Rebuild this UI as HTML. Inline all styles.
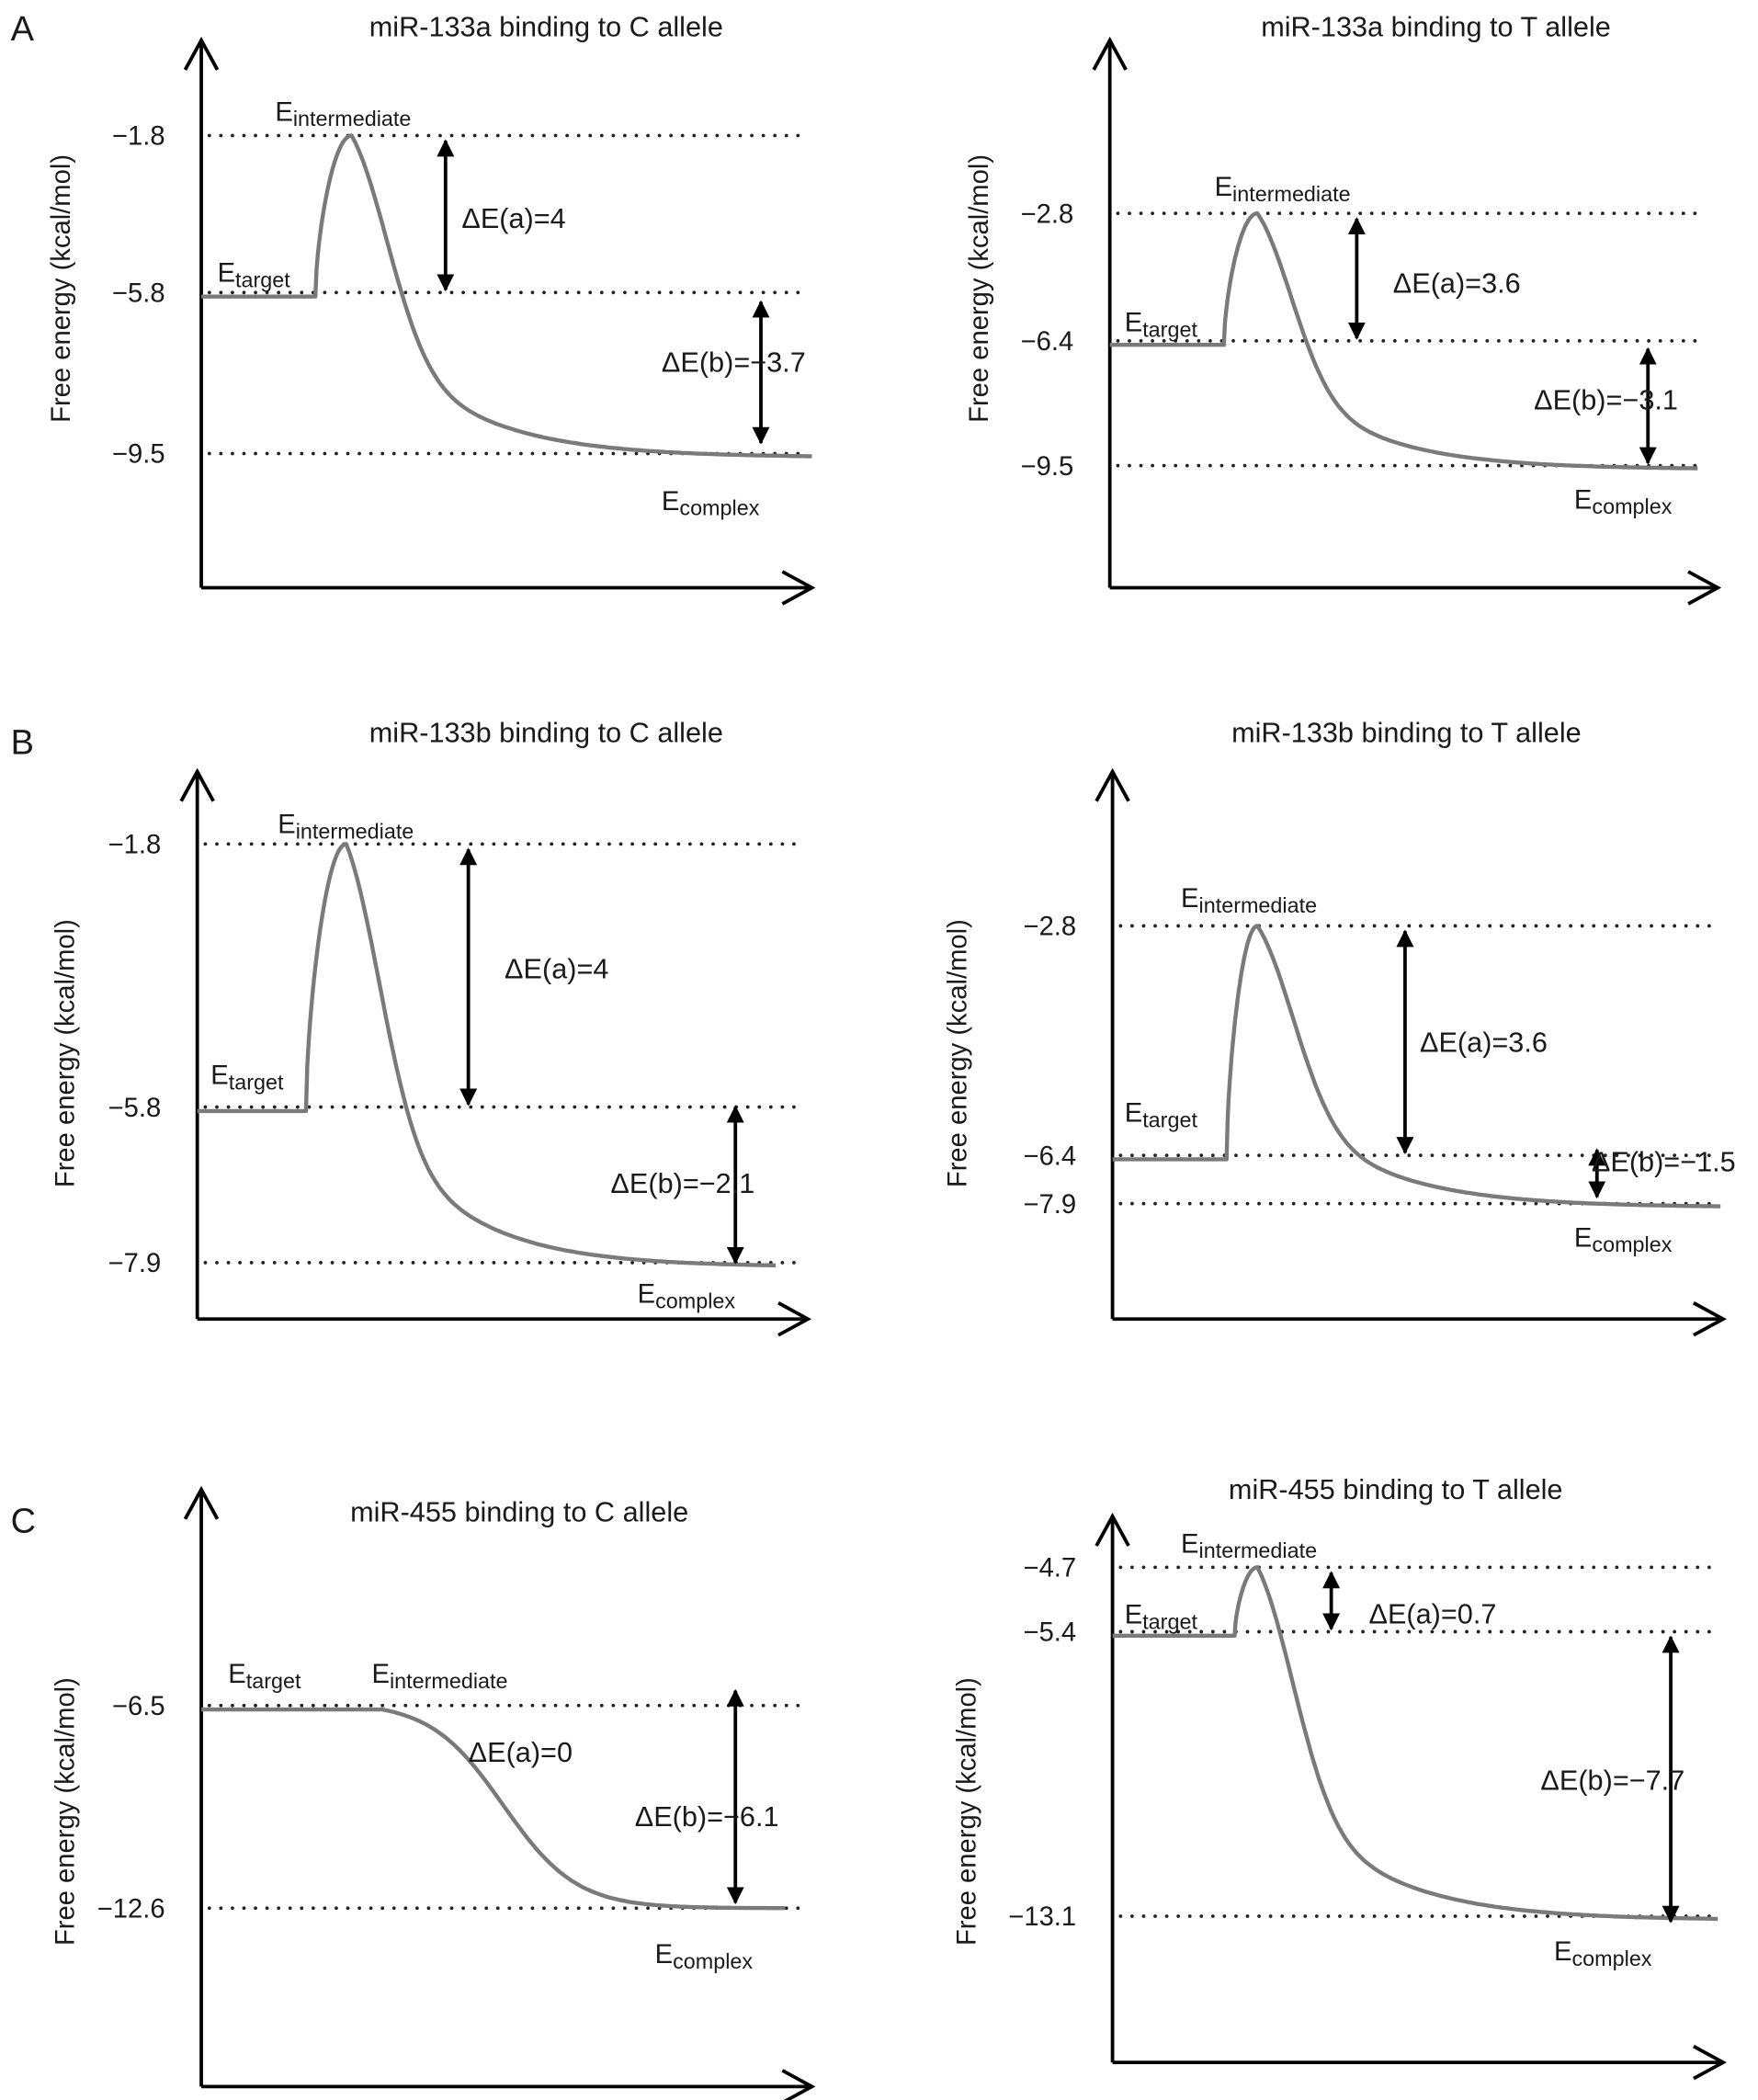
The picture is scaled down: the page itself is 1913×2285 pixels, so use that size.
<!DOCTYPE html>
<html><head><meta charset="utf-8"><style>
html,body{margin:0;padding:0;background:#fff;}
svg{display:block;}
text{font-family:"Liberation Sans",Arial,sans-serif;fill:#1a1a1a;}
</style></head>
<body>
<svg id="fig" width="1913" height="2285" viewBox="0 0 1310 1565" preserveAspectRatio="none" xmlns="http://www.w3.org/2000/svg">
<defs>
<marker id="ah" viewBox="0 0 10 10" refX="9" refY="5" markerWidth="5" markerHeight="5" orient="auto-start-reverse"><path d="M0,0 L10,5 L0,10 z" fill="#000"/></marker>
</defs>
<text x="8" y="30" font-size="26">A</text>
<text x="8" y="562" font-size="26">B</text>
<text x="8" y="1142" font-size="26">C</text>
</svg>
<script>
// ---- data ----
const panelTitles = ["miR-133a binding to C allele","miR-133a binding to T allele","miR-133b binding to C allele","miR-133b binding to T allele","miR-455 binding to C allele","miR-455 binding to T allele"];
const targetEnergy = [-5.8,-6.4,-5.8,-6.4,-6.5,-5.4];
const intermediateEnergy = [-1.8,-2.8,-1.8,-2.8,-6.5,-4.7];
const complexEnergy = [-9.5,-9.5,-7.9,-7.9,-12.6,-13.1];
const deltaA = ["4","3.6","4","3.6","0","0.7"];
const deltaB = ["\u22123.7","\u22123.1","\u22122.1","\u22121.5","\u22126.1","\u22127.7"];

// ---- layout (pixels in 1310x1565 space) ----
const L = [
 {ax:150,top:30,bot:438,xend:605,yI:101,yT:218,yC:338,xr:235,xp:262,xe:605,tx:407,ty:27,ylx:52,yly:215,
  aX:332,aLx:344,aLy:170,bX:567,bY1:225,bY2:330,bLx:493,bLy:277,iX:205,iY:90,tX:162,tY:210,cX:493,cY:380,shape:0},
 {ax:827,top:30,bot:438,xend:1280,yI:159,yT:254,yC:347,xr:912,xp:937,xe:1265,tx:1070,ty:27,ylx:736,yly:215,
  aX:1011,aLx:1038,aLy:218,bX:1228,bY1:260,bY2:345,bLx:1143,bLy:305,iX:905,iY:146,tX:838,tY:247,cX:1173,cY:379,shape:0},
 {ax:147,top:575,bot:983,xend:602,yI:629,yT:825,yC:941,xr:228,xp:258,xe:578,tx:407,ty:553,ylx:55,yly:785,
  aX:349,aLx:376,aLy:729,bX:548,bY1:825,bY2:941,bLx:455,bLy:889,iX:207,iY:621,tX:157,tY:808,cX:475,cY:971,shape:0},
 {ax:829,top:575,bot:983,xend:1284,yI:690,yT:861,yC:897,xr:914,xp:937,xe:1282,tx:1048,ty:553,ylx:720,yly:785,
  aX:1047,aLx:1058,aLy:784,bX:1190,bY1:857,bY2:892,bLx:1186,bLy:873,iX:880,iY:676,tX:838,tY:836,cX:1173,cY:929,shape:0},
 {ax:150,top:1110,bot:1555,xend:605,yI:1271,yT:1271,yC:1422,xr:262,xp:285,xe:585,tx:387,ty:1134,ylx:55,yly:1350,
  aX:null,aLx:349,aLy:1313,bX:548,bY1:1260,bY2:1418,bLx:473,bLy:1361,iX:277,iY:1254,tX:170,tY:1254,cX:488,cY:1463,shape:1},
 {ax:829,top:1130,bot:1537,xend:1284,yI:1168,yT:1216,yC:1428,xr:920,xp:937,xe:1280,tx:1040,ty:1117,ylx:727,yly:1350,
  aX:992,aLx:1020,aLy:1210,bX:1245,bY1:1220,bY2:1432,bLx:1148,bLy:1334,iX:880,iY:1157,tX:838,tY:1210,cX:1158,cY:1461,shape:0}
];

const svg = document.getElementById('fig');
const NS = 'http://www.w3.org/2000/svg';
function mk(tag, attrs, parent){const e=document.createElementNS(NS,tag);for(const k in attrs)e.setAttribute(k,attrs[k]);(parent||svg).appendChild(e);return e;}
function txt(x,y,s,size,anchor,parent){const t=mk('text',{x:x,y:y,'font-size':size,'text-anchor':anchor||'start'},parent);t.textContent=s;return t;}
function sub(x,y,main,subs,parent){const t=mk('text',{x:x,y:y,'font-size':20},parent);const a=document.createElementNS(NS,'tspan');a.textContent=main;t.appendChild(a);const b=document.createElementNS(NS,'tspan');b.setAttribute('dy','4');b.setAttribute('font-size','16');b.textContent=subs;t.appendChild(b);return t;}

for(let i=0;i<6;i++){
  const p=L[i];
  const g=mk('g',{});
  
  
  const lv=[intermediateEnergy[i],targetEnergy[i],complexEnergy[i]];
  function yS(e){
    if(lv[0]===lv[1]){ return p.yT+(e-lv[1])/(lv[2]-lv[1])*(p.yC-p.yT); }
    if(e>=lv[1]) return p.yT+(e-lv[1])/(lv[0]-lv[1])*(p.yI-p.yT);
    return p.yT+(e-lv[1])/(lv[2]-lv[1])*(p.yC-p.yT);
  }
  const yI=yS(intermediateEnergy[i]), yT=yS(targetEnergy[i]), yC=yS(complexEnergy[i]);
  const t=txt(p.tx,p.ty,panelTitles[i],21,'middle',g);
  
  
  const ya=mk('path',{d:`M${p.ax},${p.bot} L${p.ax},${p.top} M${p.ax-12},${p.top+22} L${p.ax},${p.top} L${p.ax+12},${p.top+22}`,stroke:'#000','stroke-width':2.6,fill:'none'},g);
  
  
  const xa=mk('path',{d:`M${p.ax},${p.bot} L${p.xend},${p.bot} M${p.xend-22},${p.bot-12} L${p.xend},${p.bot} L${p.xend-22},${p.bot+12}`,stroke:'#000','stroke-width':2.6,fill:'none'},g);
  
  
  const yl=mk('text',{x:0,y:0,'font-size':20,'text-anchor':'middle',transform:`translate(${p.ylx},${p.yly}) rotate(-90)`},g);
  yl.textContent='Free energy (kcal/mol)';
  
  
  const uniq=[...new Set(lv)];
  const dotEnd = p.xend-10;
  uniq.forEach(e=>{
    const y=yS(e);
    const d=mk('line',{x1:p.ax+6,y1:y,x2:dotEnd,y2:y,stroke:'#222','stroke-width':2.6,'stroke-linecap':'round','stroke-dasharray':'0 8.6'},g);
    
    
    const tl=txt(p.ax-27,y+7,'\u2212'+Math.abs(e).toFixed(1),20,'end',g);
    
    
  });
  let d=`M${p.ax},${yT+3} L${p.xr},${yT+3}`;
  if(p.shape===0){
    const n=30;
    for(let k=1;k<=n;k++){const u=k/n;const x=p.xr+(p.xp-p.xr)*u;const f=Math.pow(Math.sin(Math.PI/2*u),0.6);d+=` L${x.toFixed(1)},${(yT+3+(yI-yT-3)*f).toFixed(1)}`;}
    const m=120;
    for(let k=1;k<=m;k++){const u=k/m;const x=p.xp+(p.xe-p.xp)*u;
      const f=0.5*Math.exp(-Math.pow(u/0.12,2))+0.5*Math.exp(-u/0.2);
      const f2=(f-0.5*Math.exp(-5))/(1-0.5*Math.exp(-5));
      d+=` L${x.toFixed(1)},${(yC+2+(yI-yC-2)*f2).toFixed(1)}`;}
  } else {
    d+=` L${p.xp},${yT+3}`;
    const m=100;
    for(let k=1;k<=m;k++){const u=k/m;const x=p.xp+(p.xe-p.xp)*u;
      const s=1/(1+Math.exp(-(u-0.3)*11));const s0=1/(1+Math.exp(3.3)),s1=1/(1+Math.exp(-7.7));
      const f=(s-s0)/(s1-s0);
      d+=` L${x.toFixed(1)},${(yT+3+(yC-yT-3)*f).toFixed(1)}`;}
  }
  const c=mk('path',{d:d,stroke:'#7a7a7a','stroke-width':3,fill:'none','stroke-linejoin':'round'},g);
  
  
  if(p.aX!==null){
    const a=mk('line',{x1:p.aX,y1:yI+4,x2:p.aX,y2:yT-2,stroke:'#000','stroke-width':2.6,'marker-start':'url(#ah)','marker-end':'url(#ah)'},g);
    
    
  }
  const b=mk('line',{x1:p.bX,y1:p.bY1,x2:p.bX,y2:p.bY2,stroke:'#000','stroke-width':2.6,'marker-start':'url(#ah)','marker-end':'url(#ah)'},g);
  
  
  const la=txt(p.aLx,p.aLy,'\u0394E(a)='+deltaA[i],21,'start',g);
  
  
  const lb=txt(p.bLx,p.bLy,'\u0394E(b)='+deltaB[i],21,'start',g);
  
  
  const s1=sub(p.iX,p.iY,'E','intermediate',g);
  
  
  const s2=sub(p.tX,p.tY,'E','target',g);
  
  
  const s3=sub(p.cX,p.cY,'E','complex',g);
  
  
}
</script>
</body></html>
